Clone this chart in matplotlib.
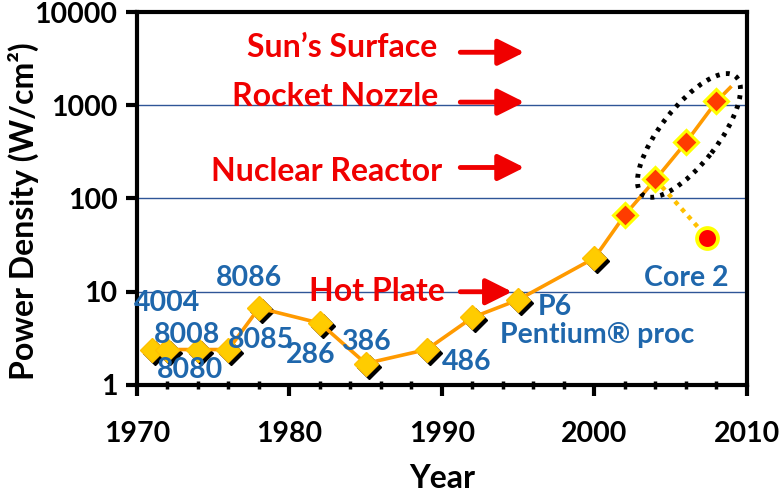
import numpy as np
import matplotlib.pyplot as plt
from matplotlib import transforms
from matplotlib.patches import Ellipse
from matplotlib.ticker import FixedLocator, FuncFormatter, MultipleLocator

plt.rcParams['font.family'] = ['Lato', 'DejaVu Sans']
plt.rcParams['font.weight'] = 'bold'

# older chips (yellow diamonds)
years = [1971, 1972, 1974, 1976, 1978, 1982, 1985, 1989, 1992, 1995, 2000]
power = [2.4, 2.4, 2.4, 2.4, 6.7, 4.6, 1.7, 2.4, 5.3, 8.2, 23]
# recent chips (red diamonds)
recent_years = [2002, 2004, 2006, 2008]
recent_power = [67, 160, 400, 1100]
# trend extension past the last point
ext_years = [2008, 2008.9]
ext_power = [1100, 1550]
# Core 2
core2_year = [2004, 2007.4]
core2_power = [160, 38]

chip_labels = ['4004', '8008', '8080', '8085', '8086', '286', '386', '486',
               'P6', 'Pentium® proc', 'Core 2']
ref_labels = ["Sun’s Surface", 'Rocket Nozzle', 'Nuclear Reactor', 'Hot Plate']

blue = '#1F67AC'
red = '#F00000'

fig = plt.figure(figsize=(7.84, 4.96), dpi=100)
ax = fig.add_axes([0.1747, 0.2238, 0.9528 - 0.1747, 0.9758 - 0.2238])
ax.set_yscale('log')
ax.set_xlim(1970, 2010)
ax.set_ylim(1, 10000)

for v in [10, 100, 1000]:
    ax.axhline(v, color='#2F5597', lw=1.0, zorder=1)

all_years = years + recent_years
all_power = power + recent_power

# shadow of the yellow diamonds
shadow = transforms.offset_copy(ax.transData, fig=fig, x=3, y=-3, units='dots')
ax.plot(years, power, 'D', color='black', ms=12.5, transform=shadow, zorder=2)

ax.plot(all_years, all_power, '-', color='#FF9A00', lw=2.6, zorder=3)
ax.plot(ext_years, ext_power, '-', color='#FF9A00', lw=2.6, zorder=3)
ax.plot(core2_year, core2_power, color='#FFC000', lw=3.2, ls=(0, (1, 1.2)), zorder=3)

ax.plot(years, power, 'D', color='#FFCC00', mec='#FFC000', ms=12.5, zorder=4)
ax.plot(recent_years, recent_power, 'D', color='#FF3C00', mec='#FFFF00', mew=2.2,
        ms=12.5, zorder=4)
ax.plot(core2_year[1:], core2_power[1:], 'o', color='#FF0000', mec='#FFFF00',
        mew=2.8, ms=15, zorder=5)

# dotted ellipse round the recent points, built in pixel space
p0 = ax.transData.transform((recent_years[1], recent_power[1]))
p1 = ax.transData.transform((recent_years[3], recent_power[3]))
c = (p0 + p1) / 2 + np.array([3, 5])
d = p1 - p0
ang = np.degrees(np.arctan2(d[1], d[0]))
ell = Ellipse(c, np.hypot(*d) * 1.52, 57, angle=ang, fill=False, ec='black',
              lw=3.5, ls=(0, (0.8, 1.3)), transform=None, zorder=6)
ax.add_artist(ell)

# chip labels
label_pos = [(1971.97, 7.6), (1973.28, 3.45), (1973.48, 1.45), (1978.1, 3.05),
             (1977.34, 14.2), (1981.41, 2.1), (1985.02, 2.9), (1991.64, 1.77),
             (1997.41, 6.9), (2000.16, 3.45), (2006.0, 14.2)]
for txt, (x, y) in zip(chip_labels, label_pos):
    ax.text(x, y, txt, color=blue, fontsize=20.5, fontweight='bold',
            ha='center', va='center', zorder=7)

# reference levels
ref_pos = [(1989.67, 4200), (1989.74, 1250), (1990.0, 195), (1990.2, 10)]
arrow_y = [3700, 1080, 215, 10]
arrow_end = [1995.4, 1995.4, 1995.4, 1994.6]
for txt, (x, y), ay, ae in zip(ref_labels, ref_pos, arrow_y, arrow_end):
    ax.text(x, y, txt, color=red, fontsize=23, fontweight='bold',
            ha='right', va='center', zorder=7)
    ax.annotate('', xy=(ae, ay), xytext=(1991.2, ay),
                arrowprops=dict(arrowstyle='-|>,head_length=0.8,head_width=0.4',
                                color=red, lw=3.5, mutation_scale=20,
                                shrinkA=0, shrinkB=0),
                zorder=7)

ax.yaxis.set_major_locator(FixedLocator([1, 10, 100, 1000, 10000]))
ax.yaxis.set_minor_locator(FixedLocator([]))
ax.yaxis.set_major_formatter(FuncFormatter(lambda v, p: f'{v:.0f}'))
ax.xaxis.set_major_locator(MultipleLocator(10))
ax.xaxis.set_minor_locator(MultipleLocator(2))

for s in ax.spines.values():
    s.set_linewidth(3)
ax.tick_params(axis='both', which='major', width=3, length=8, labelsize=20.5)
ax.tick_params(axis='x', which='major', direction='out', pad=18)
ax.tick_params(axis='x', which='minor', direction='inout', width=2.5, length=6)
ax.tick_params(axis='y', which='major', direction='out', pad=6)
for lab in ax.get_xticklabels() + ax.get_yticklabels():
    lab.set_fontweight('bold')

ax.set_xlabel('Year', fontsize=23, fontweight='bold')
ax.xaxis.set_label_coords(0.5, -0.212)
ax.set_ylabel('Power Density (W/cm²)', fontsize=23, fontweight='bold')
ax.yaxis.set_label_coords(-0.16, 0.465)

fig.savefig('out.png', dpi=100)
